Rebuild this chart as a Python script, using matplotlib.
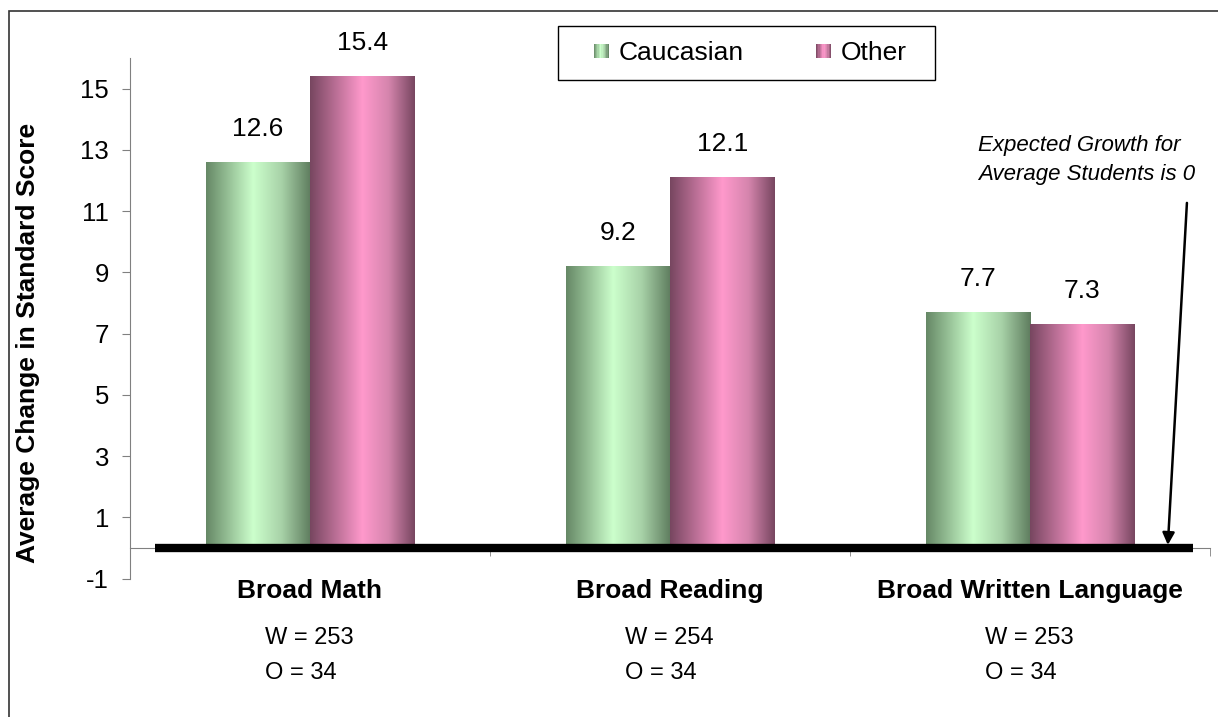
import numpy as np
import matplotlib.pyplot as plt
from matplotlib.colors import LinearSegmentedColormap
from matplotlib.patches import Rectangle
from matplotlib.legend_handler import HandlerBase

plt.rcParams['font.family'] = ['Liberation Sans', 'DejaVu Sans']
plt.rcParams['axes.unicode_minus'] = False

categories = ['Broad Math', 'Broad Reading', 'Broad Written Language']
caucasian = [12.6, 9.2, 7.7]
other = [15.4, 12.1, 7.3]
w_counts = [253, 254, 253]
o_counts = [34, 34, 34]
series_names = ['Caucasian', 'Other']
yticks = [-1, 1, 3, 5, 7, 9, 11, 13, 15]

# cylinder-style shading: dark edges, highlight near the middle
green_cmap = LinearSegmentedColormap.from_list(
    'green_shade', [(0, '#668866'), (0.45, '#ccffcc'), (0.72, '#a8d2a8'), (1, '#5e7c5e')])
pink_cmap = LinearSegmentedColormap.from_list(
    'pink_shade', [(0, '#774660'), (0.5, '#ff99cc'), (0.75, '#d585ad'), (1, '#774660')])
grad = np.linspace(0, 1, 256).reshape(1, -1)


class GradientHandler(HandlerBase):
    def __init__(self, cmap):
        super().__init__()
        self.cmap = cmap

    def create_artists(self, legend, orig_handle, xdescent, ydescent,
                       width, height, fontsize, trans):
        n = 12
        side_w = width
        side_h = height * 0.75
        x0 = -xdescent
        y0 = -ydescent + (height - side_h) / 2
        parts = []
        for i in range(n):
            r = Rectangle((x0 + i * side_w / n, y0), side_w / n + 0.2, side_h,
                          facecolor=self.cmap((i + 0.5) / n), edgecolor='none',
                          transform=trans)
            parts.append(r)
        return parts


fig = plt.figure(figsize=(12.18, 7.17), dpi=100)
ax = fig.add_axes([0.1067, 0.193, 0.8867, 0.726])

x = np.arange(len(categories))
width = 0.29
bars_c = ax.bar(x - width / 2, caucasian, width, color='none', edgecolor='none', label=series_names[0])
bars_o = ax.bar(x + width / 2, other, width, color='none', edgecolor='none', label=series_names[1])

for bars, cmap in [(bars_c, green_cmap), (bars_o, pink_cmap)]:
    for b in bars:
        bx, bw, bh = b.get_x(), b.get_width(), b.get_height()
        ax.imshow(grad, cmap=cmap, extent=[bx, bx + bw, 0, bh],
                  aspect='auto', interpolation='bilinear', zorder=2)

for vals, off in [(caucasian, -width / 2), (other, width / 2)]:
    for i, v in enumerate(vals):
        ax.text(x[i] + off, v + 1.1, f'{v:.1f}', ha='center', va='center', fontsize=19)

# heavy zero line
ax.plot([-0.43, 2.453], [0, 0], color='black', lw=6, solid_capstyle='butt', zorder=4)

ax.set_xlim(-0.5, 2.5)
ax.set_ylim(-1, 16)

for side in ['top', 'right']:
    ax.spines[side].set_visible(False)
ax.spines['bottom'].set_position(('data', 0))
ax.spines['bottom'].set_color('#808080')
ax.spines['left'].set_color('#808080')

ax.set_yticks(yticks)
ax.tick_params(axis='y', labelsize=18.5, length=6, color='#808080', pad=9)

ax.set_xticks(x)
ax.set_xticks([-0.5, 0.5, 1.5, 2.5], minor=True)
ax.tick_params(axis='x', which='major', length=0, pad=22)
ax.tick_params(axis='x', which='minor', length=6, color='#808080', direction='out')
ax.set_xticklabels(categories, fontsize=19, fontweight='bold')

ax.set_ylabel('Average Change in Standard Score', fontsize=19, fontweight='bold')
ax.yaxis.set_label_coords(-0.083, 0.452)

for i in range(len(categories)):
    ax.text(x[i] - 0.125, -2.94, f'W = {w_counts[i]}', ha='left', va='center',
            fontsize=17, clip_on=False)
    ax.text(x[i] - 0.125, -4.08, f'O = {o_counts[i]}', ha='left', va='center',
            fontsize=17, clip_on=False)

ax.text(1.856, 12.66, 'Expected Growth for\nAverage Students is 0', ha='left', va='center',
        fontsize=16, style='italic', linespacing=1.5)
ax.annotate('', xy=(2.383, 0.1), xytext=(2.436, 11.27),
            arrowprops=dict(arrowstyle='-|>', color='black', lw=1.8,
                            mutation_scale=18, shrinkA=0, shrinkB=0))

leg = fig.legend(handles=[bars_c, bars_o], labels=series_names,
                 loc='center', bbox_to_anchor=(750 / 1218, 1 - 53 / 717),
                 ncol=2, fontsize=19, frameon=False,
                 columnspacing=2.75, handlelength=0.58, handletextpad=0.35,
                 handler_map={bars_c: GradientHandler(green_cmap),
                              bars_o: GradientHandler(pink_cmap)})

# legend box
fig.patches.append(Rectangle((558 / 1218, 1 - 80 / 717), 377 / 1218, 54 / 717,
                             transform=fig.transFigure, fill=False,
                             edgecolor='black', lw=1.0))

# outer chart border
fig.patches.append(Rectangle((9 / 1218, -0.01), 1.0, 1 - 11 / 717 + 0.01,
                             transform=fig.transFigure, fill=False,
                             edgecolor='#333333', lw=1.2))

fig.savefig('out.png', dpi=100)
